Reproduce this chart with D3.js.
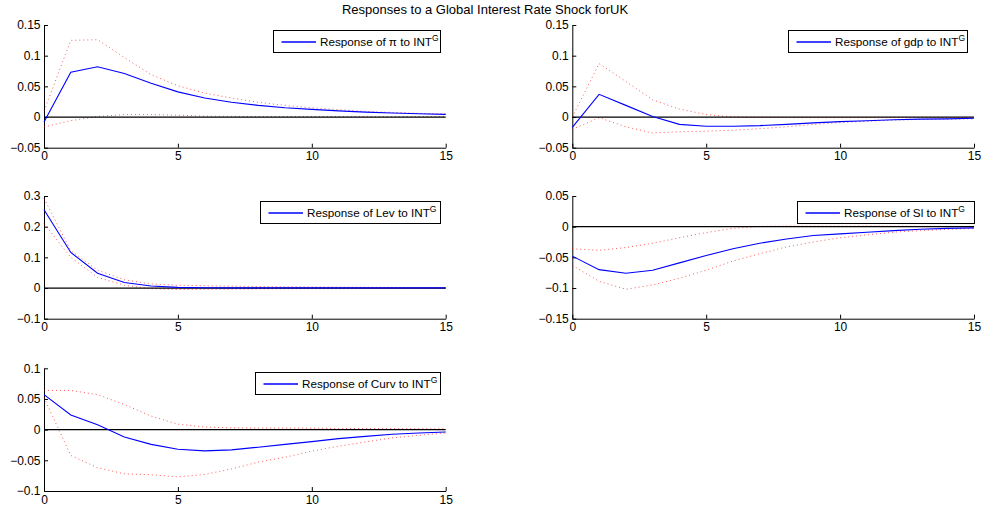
<!DOCTYPE html>
<html>
<head>
<meta charset="utf-8">
<script src="https://cdn.jsdelivr.net/npm/d3@7"></script>
<style>
  body { margin: 0; background: #fff; }
  svg { display: block; font-family: "Liberation Sans", Arial, sans-serif; }
</style>
</head>
<body>
<svg id="chart" width="984" height="509"></svg>
<script>
const title = "Responses to a Global Interest Rate Shock forUK";
const horizon = [0, 1, 2, 3, 4, 5, 6, 7, 8, 9, 10, 11, 12, 13, 14, 15];
const xTicks = [0, 5, 10, 15];

// response of pi
const piMid = [-0.008, 0.073, 0.082, 0.071, 0.055, 0.041, 0.031, 0.024, 0.019, 0.015, 0.0125, 0.010, 0.008, 0.0065, 0.0053, 0.0043];
const piUp  = [0.010, 0.125, 0.126, 0.097, 0.069, 0.051, 0.039, 0.031, 0.024, 0.019, 0.015, 0.012, 0.009, 0.0075, 0.006, 0.005];
const piLo  = [-0.016, -0.006, 0.001, 0.004, 0.004, 0.003, 0.0015, 0.001, 0.0008, 0.0008, 0.0008, 0.0008, 0.0008, 0.0008, 0.0008, 0.0008];

// response of gdp
const gdpMid = [-0.017, 0.037, 0.019, 0.001, -0.012, -0.015, -0.015, -0.014, -0.012, -0.0095, -0.0075, -0.006, -0.0045, -0.0035, -0.003, -0.002];
const gdpUp  = [0.000, 0.087, 0.058, 0.028, 0.013, 0.004, 0.000, -0.0005, -0.0008, -0.001, -0.001, -0.001, -0.001, -0.001, -0.001, -0.001];
const gdpLo  = [-0.020, -0.001, -0.016, -0.026, -0.024, -0.023, -0.0215, -0.019, -0.016, -0.012, -0.009, -0.007, -0.005, -0.004, -0.0035, -0.003];

// response of Lev
const levMid = [0.255, 0.116, 0.048, 0.018, 0.0065, 0.002, 0.001, 0.0005, 0.0005, 0.0005, 0.0005, 0.0005, 0.0005, 0.0005, 0.0005, 0.0005];
const levUp  = [0.292, 0.122, 0.058, 0.027, 0.013, 0.009, 0.0075, 0.006, 0.005, 0.004, 0.0035, 0.003, 0.0025, 0.002, 0.0015, 0.001];
const levLo  = [0.210, 0.100, 0.035, 0.009, -0.002, -0.005, -0.004, -0.0035, -0.003, -0.0025, -0.002, -0.002, -0.0015, -0.0012, -0.001, -0.001];

// response of Sl
const slMid = [-0.048, -0.070, -0.076, -0.071, -0.059, -0.047, -0.036, -0.027, -0.020, -0.0145, -0.0118, -0.009, -0.0064, -0.0043, -0.0027, -0.002];
const slUp  = [-0.036, -0.0386, -0.034, -0.027, -0.018, -0.0096, -0.0027, 0.0005, 0.001, 0.001, 0.001, 0.001, 0.0008, 0.0006, 0.0004, 0.0002];
const slLo  = [-0.063, -0.089, -0.102, -0.095, -0.084, -0.071, -0.056, -0.044, -0.033, -0.025, -0.018, -0.0134, -0.009, -0.0064, -0.0043, -0.003];

// response of Curv
const curvMid = [0.057, 0.024, 0.008, -0.012, -0.024, -0.032, -0.0346, -0.033, -0.0286, -0.024, -0.0195, -0.0146, -0.011, -0.0076, -0.0054, -0.0038];
const curvUp  = [0.064, 0.064, 0.057, 0.041, 0.022, 0.009, 0.0043, 0.003, 0.0027, 0.0025, 0.0023, 0.002, 0.0018, 0.0016, 0.0014, 0.0012];
const curvLo  = [0.052, -0.042, -0.062, -0.072, -0.0735, -0.077, -0.073, -0.064, -0.053, -0.045, -0.035, -0.027, -0.020, -0.0135, -0.0092, -0.0054];

const panels = [
  { name: "\u03c0",  mid: piMid,   up: piUp,   lo: piLo,   yDomain: [-0.05, 0.15], yTicks: [-0.05, 0, 0.05, 0.1, 0.15] },
  { name: "gdp",     mid: gdpMid,  up: gdpUp,  lo: gdpLo,  yDomain: [-0.05, 0.15], yTicks: [-0.05, 0, 0.05, 0.1, 0.15] },
  { name: "Lev",     mid: levMid,  up: levUp,  lo: levLo,  yDomain: [-0.1, 0.3],   yTicks: [-0.1, 0, 0.1, 0.2, 0.3] },
  { name: "Sl",      mid: slMid,   up: slUp,   lo: slLo,   yDomain: [-0.15, 0.05], yTicks: [-0.15, -0.1, -0.05, 0, 0.05] },
  { name: "Curv",    mid: curvMid, up: curvUp, lo: curvLo, yDomain: [-0.1, 0.1],   yTicks: [-0.1, -0.05, 0, 0.05, 0.1] }
];

// layout of each axes box and its legend (pixels)
const layout = [
  { x: 44,    y: 25,    legend: { x: 273.5, y: 30.5,  w: 167 } },
  { x: 572.3, y: 25,    legend: { x: 788.5, y: 30.5,  w: 179 } },
  { x: 44,    y: 196,   legend: { x: 260.5, y: 201.5, w: 180 } },
  { x: 572.3, y: 196,   legend: { x: 797.5, y: 201.5, w: 177 } },
  { x: 44,    y: 368.3, legend: { x: 255.5, y: 372.5, w: 185 } }
];
const plotW = 401.7, plotH = 122.7, legendH = 22;

const svg = d3.select("#chart");
svg.append("rect").attr("width", 984).attr("height", 509).attr("fill", "#fff");

svg.append("text")
  .attr("x", 485).attr("y", 14)
  .attr("text-anchor", "middle")
  .attr("font-size", 13)
  .text(title);

const fmt = d => String(+d.toFixed(2)).replace("-", "\u2212");

panels.forEach((p, i) => {
  const L = layout[i];
  const g = svg.append("g").attr("transform", `translate(${L.x},${L.y})`);

  const x = d3.scaleLinear().domain([0, 15]).range([0, plotW]);
  const y = d3.scaleLinear().domain(p.yDomain).range([plotH, 0]);

  // axes, ticks pointing inward like MATLAB
  const yAxis = g.append("g")
    .call(d3.axisLeft(y).tickValues(p.yTicks).tickSizeInner(-4).tickSizeOuter(0).tickPadding(3.5).tickFormat(fmt));
  const xAxis = g.append("g").attr("transform", `translate(0,${plotH})`)
    .call(d3.axisBottom(x).tickValues(xTicks).tickSizeInner(-4).tickSizeOuter(0).tickPadding(4));
  [xAxis, yAxis].forEach(a => {
    a.select(".domain").attr("stroke", "#000").attr("stroke-width", 1);
    a.selectAll(".tick line").attr("stroke", "#000");
    a.selectAll(".tick text").attr("font-size", 12).attr("fill", "#000")
      .attr("font-family", "Liberation Sans, Arial, sans-serif");
  });

  const line = d3.line().x((d, k) => x(horizon[k])).y(d => y(d));

  // bands
  [p.up, p.lo].forEach(band => {
    g.append("path").datum(band)
      .attr("fill", "none")
      .attr("stroke", "#ff0000")
      .attr("stroke-opacity", 0.65)
      .attr("stroke-width", 1)
      .attr("stroke-dasharray", "1,3")
      .attr("d", line);
  });

  // zero line
  g.append("line")
    .attr("x1", x(0)).attr("x2", x(15))
    .attr("y1", y(0)).attr("y2", y(0))
    .attr("stroke", "#000").attr("stroke-width", 1.2);

  // point response
  g.append("path").datum(p.mid)
    .attr("fill", "none")
    .attr("stroke", "#0000ff")
    .attr("stroke-width", 1.1)
    .attr("d", line);

  // legend
  const lg = svg.append("g").attr("transform", `translate(${L.legend.x},${L.legend.y})`);
  lg.append("rect")
    .attr("width", L.legend.w).attr("height", legendH)
    .attr("fill", "#fff").attr("stroke", "#000").attr("stroke-width", 1);
  lg.append("line")
    .attr("x1", 8).attr("x2", 42.5)
    .attr("y1", legendH / 2 + 0.5).attr("y2", legendH / 2 + 0.5)
    .attr("stroke", "#0000ff").attr("stroke-width", 1.3);
  const t = lg.append("text")
    .attr("x", 46.5).attr("y", legendH / 2 + 4.5)
    .attr("font-size", 11.7)
    .text(`Response of ${p.name} to INT`);
  t.append("tspan").attr("dy", -5.5).attr("font-size", 8.5).text("G");
});
</script>
</body>
</html>
